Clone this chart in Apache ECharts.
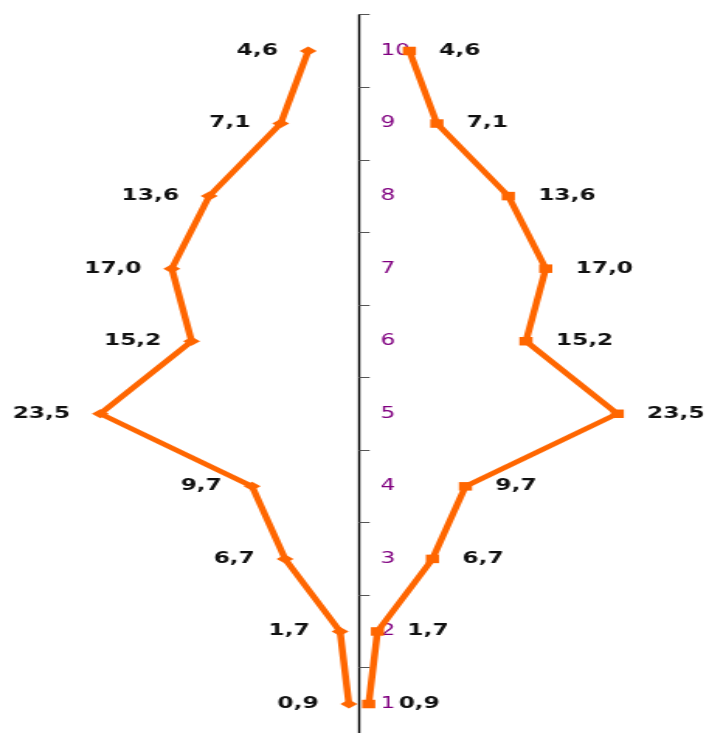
<!DOCTYPE html>
<html>
<head>
<meta charset="utf-8">
<script src="https://cdn.jsdelivr.net/npm/echarts@6/dist/echarts.min.js"></script>
<style>
  html, body { margin: 0; padding: 0; background: #fff; overflow: hidden; }
  /* the chart is drawn narrow and widened horizontally */
  #chart { width: 457px; height: 733px; transform: scaleX(1.5514); transform-origin: 0 0; }
</style>
</head>
<body>
<div id="chart"></div>
<script>
const categories = ['1', '2', '3', '4', '5', '6', '7', '8', '9', '10'];
const values = [0.9, 1.7, 6.7, 9.7, 23.5, 15.2, 17.0, 13.6, 7.1, 4.6];
const mirrored = values.map(v => -v);

const fmt = p => Math.abs(p.value).toFixed(1).replace('.', ',');
const labelFont = { fontFamily: 'DejaVu Sans', fontSize: 15, fontWeight: 'bold', color: '#111' };

const gridLeft = 54, gridWidth = 354.5;
const chart = echarts.init(document.getElementById('chart'));
chart.setOption({
  animation: false,
  grid: { left: gridLeft, width: gridWidth, top: 14.7, height: 725.6, outerBoundsMode: 'none', containLabel: false },
  xAxis: {
    type: 'value', min: -25, max: 25, show: false,
    splitLine: { show: false }
  },
  yAxis: {
    type: 'category',
    data: categories,
    position: 'left',
    // shift the axis to the value zero in the middle of the grid
    offset: -gridWidth / 2,
    axisLine: { onZero: false, lineStyle: { color: '#000', width: 1.4 } },
    axisTick: { show: true, inside: true, length: 7, lineStyle: { color: '#555', width: 1 } },
    axisLabel: {
      inside: true, margin: 14,
      color: '#800080', fontFamily: 'DejaVu Sans', fontSize: 15
    },
    splitLine: { show: false }
  },
  series: [
    {
      type: 'line',
      data: mirrored,
      symbol: 'diamond',
      symbolSize: [11, 9],
      lineStyle: { color: '#FF6600', width: 4.5 },
      itemStyle: { color: '#FF6600' },
      label: { show: true, position: 'left', distance: 14, formatter: fmt, ...labelFont }
    },
    {
      type: 'line',
      data: values,
      symbol: 'rect',
      symbolSize: 8.5,
      lineStyle: { color: '#FF6600', width: 4.5 },
      itemStyle: { color: '#FF6600' },
      label: { show: true, position: 'right', distance: 15, formatter: fmt, ...labelFont }
    }
  ]
});
</script>
</body>
</html>
